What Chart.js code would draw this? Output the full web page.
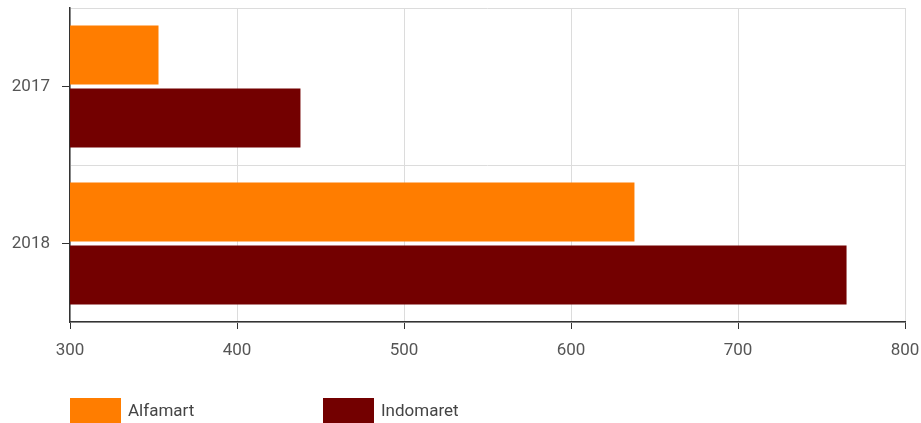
<!DOCTYPE html>
<html>
<head>
<meta charset="utf-8">
<script src="https://cdn.jsdelivr.net/npm/chart.js@4.4.1/dist/chart.umd.min.js"></script>
<style>
  html, body { margin: 0; padding: 0; background: #fff; }
  #wrap { width: 921px; height: 423px; position: relative; }
</style>
</head>
<body>
<div id="wrap"><canvas id="chart"></canvas></div>
<script>
const years = ['2017', '2018']
const alfamart = [353, 638]
const indomaret = [438, 765]
const xTicks = [300, 400, 500, 600, 700, 800]

const FONT = 'Roboto, "Noto Sans", sans-serif'

// legend drawn by hand so the boxes sit where the original puts them
const bottomLegend = {
  id: 'bottomLegend',
  afterDraw(chart) {
    const ctx = chart.ctx
    const starts = [70, 323]
    ctx.save()
    ctx.font = '17px ' + FONT
    ctx.textBaseline = 'middle'
    chart.data.datasets.forEach((ds, i) => {
      const x = starts[i]
      ctx.fillStyle = ds.backgroundColor
      ctx.fillRect(x, 398, 51, 25)
      ctx.fillStyle = '#444'
      ctx.fillText(ds.label, x + 58, 412)
    })
    ctx.restore()
  }
}

new Chart(document.getElementById('chart').getContext('2d'), {
  type: 'bar',
  data: {
    labels: years,
    datasets: [
      { label: 'Alfamart', data: alfamart, backgroundColor: '#ff7d00', yAxisID: 'y' },
      { label: 'Indomaret', data: indomaret, backgroundColor: '#730000', yAxisID: 'y' }
    ]
  },
  options: {
    indexAxis: 'y',
    responsive: true,
    maintainAspectRatio: false,
    animation: false,
    layout: { padding: { top: 8, right: 16, bottom: 0, left: 0 } },
    datasets: { bar: { categoryPercentage: 0.8, barPercentage: 0.94 } },
    plugins: {
      legend: { display: false },
      tooltip: { enabled: false }
    },
    scales: {
      x: {
        min: 300,
        max: 800,
        afterBuildTicks: (scale) => { scale.ticks = xTicks.map(v => ({ value: v })) },
        afterFit: (scale) => {
          scale.height = 101
          scale.paddingLeft = 0
          scale.paddingRight = 0
        },
        border: { color: '#333', width: 1.5 },
        grid: { color: '#dcdcdc', tickColor: '#333', tickLength: 7 },
        ticks: { color: '#555', font: { family: FONT, size: 17 }, padding: 12 }
      },
      y: {
        afterFit: (scale) => {
          scale.width = 70
          scale.paddingTop = 0
          scale.paddingBottom = 0
        },
        border: { color: '#333', width: 1.5 },
        grid: { offset: false, color: 'rgba(0,0,0,0)', tickColor: '#333', tickLength: 8 },
        ticks: { color: '#555', font: { family: FONT, size: 17 }, padding: 12 }
      },
      yb: {
        type: 'category',
        labels: years,
        position: 'right',
        offset: true,
        afterFit: (scale) => {
          scale.width = 0
          scale.paddingTop = 0
          scale.paddingBottom = 0
        },
        border: { display: false },
        grid: { offset: true, color: '#dcdcdc', drawTicks: false },
        ticks: { display: false }
      }
    }
  },
  plugins: [bottomLegend]
})
</script>
</body>
</html>
